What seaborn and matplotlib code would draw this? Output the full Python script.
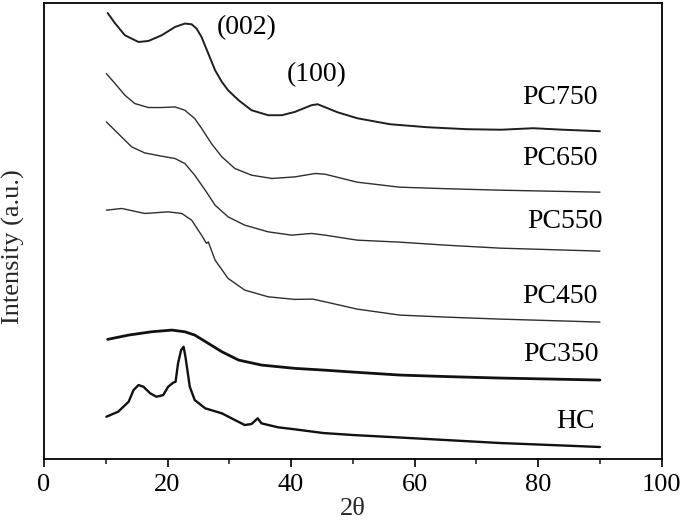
import matplotlib
matplotlib.use("Agg")
import matplotlib.pyplot as plt
import numpy as np
import pandas as pd
import seaborn as sns
from matplotlib.ticker import MultipleLocator

# stacked XRD patterns (values already include the vertical offset)
pc750_x = [10.3, 11.5, 13.1, 15.3, 16.9, 19.05, 21.2, 22.8, 23.9, 24.7, 25.5, 26.6, 27.7, 28.8, 29.8, 31.5,
           33.6, 36.3, 38.5, 40.6, 43.3, 44.3, 45.5, 47.5, 50.7, 56, 62, 68.5, 74, 79.2, 84, 90]
pc750_y = [446.3, 436, 424, 417.3, 418.3, 424, 432.3, 435.7, 435, 430.7, 422.3, 405.7, 389, 377.3, 369, 359,
           349, 344, 344, 347.3, 354, 355, 352, 347, 341, 335, 332, 330, 329.5, 331, 329.5, 328]

pc650_x = [10.1, 11.5, 13.1, 14.7, 16.9, 19.05, 21.2, 22.8, 24.4, 25.5, 27.1, 28.8, 30.9, 33.6, 36.9,
           40.6, 43.9, 45.5, 50.7, 57.6, 65, 73.8, 82, 90]
pc650_y = [385.7, 375.7, 364, 355.7, 351.7, 351.7, 352.3, 349, 340.7, 331, 315.7, 302.3, 290.7, 284, 280.7,
           282.3, 285.7, 285, 277, 272, 270.5, 269, 268, 267]

pc550_x = [10.1, 12, 14.2, 16.3, 19.05, 21.2, 22.8, 24.4, 26.1, 27.7, 29.8, 32.5, 36.3, 40.1, 43.3, 45.5,
           50.7, 57.6, 65, 73.8, 82, 90]
pc550_y = [337.3, 325.7, 312.3, 306.3, 303, 300.7, 295.7, 284, 269, 254, 242.3, 234, 227.3, 224, 225.7, 224,
           219, 217, 214, 211, 209.5, 208]

pc450_x = [10.1, 12.6, 16.3, 20.1, 22.3, 23.9, 25.5, 26.3, 26.6, 27.7, 29.8, 32.5, 36.3, 40.6, 43.5, 45.5,
           50.7, 57.6, 65, 73.8, 82, 90]
pc450_y = [249, 250.7, 245.7, 247.3, 245.7, 239, 224, 215.7, 217.3, 199, 180.7, 169, 162.3, 159.7, 160, 157.3,
           150, 144, 142, 140, 138.5, 137]

pc350_x = [10.3, 13.7, 17.4, 20.7, 22.8, 24.4, 26.6, 28.8, 31.5, 35.2, 40.6, 45.2, 50, 57.6, 65, 73.8, 82, 90]
pc350_y = [119.7, 124, 127.3, 129, 127.3, 124, 115.7, 107.3, 99, 94, 90.7, 89, 87, 84, 82.5, 81, 80, 79]

hc_x = [10.1, 12, 13.7, 14.5, 15.3, 16.1, 17.2, 18.2, 19.3, 20.1, 20.9, 21.3, 21.7, 22.2, 22.6, 22.9, 23.6,
        24.4, 26.1, 28.8, 30.9, 32.5, 33.6, 34.6, 35.2, 37.9, 40.6, 45.2, 50, 57.6, 65, 73.8, 82, 90]
hc_y = [42.3, 47.3, 57.3, 69, 74, 72.3, 65.7, 62.3, 64, 72.3, 76.3, 77.3, 95.7, 109, 112.3, 102.3, 72.3,
        59, 50.7, 45.7, 39, 34, 35, 40.7, 35.7, 31.7, 29.7, 26, 24, 21.5, 19, 16, 14, 12]

names = ["PC750", "PC650", "PC550", "PC450", "PC350", "HC"]
label_x = [83.5, 83.5, 84.3, 83.5, 83.7, 86.1]
label_y = [362, 301, 238, 163, 105, 38]
peak_names = ["(002)", "(100)"]
peak_x = [32.8, 44.2]
peak_y = [432, 385]

series = [(pc750_x, pc750_y, 1.4, "#1e1e1e"),
          (pc650_x, pc650_y, 1.0, "#2e2e2e"),
          (pc550_x, pc550_y, 1.0, "#2e2e2e"),
          (pc450_x, pc450_y, 1.0, "#2e2e2e"),
          (pc350_x, pc350_y, 2.0, "#111111"),
          (hc_x, hc_y, 1.7, "#111111")]

sns.set_theme(style="ticks")
plt.rcParams["font.family"] = ["Liberation Serif", "DejaVu Serif"]

fig = plt.figure(figsize=(6.85, 5.25), dpi=100)
ax = fig.add_axes([44 / 685, 1 - 459 / 525, (661.7 - 44) / 685, (459 - 3.3) / 525])

for name, (xs, ys, lw, c) in zip(names, series):
    df = pd.DataFrame({"x": xs, "y": ys})
    sns.lineplot(data=df, x="x", y="y", ax=ax, color=c, linewidth=lw, sort=False)

for name, tx, ty in zip(names, label_x, label_y):
    ax.text(tx, ty, name, ha="center", va="center", fontsize=20, color="black")
for name, tx, ty in zip(peak_names, peak_x, peak_y):
    ax.text(tx, ty, name, ha="center", va="center", fontsize=20, color="black")

ax.set_xlim(0, 100)
ax.set_ylim(0, 456)
ax.xaxis.set_major_locator(MultipleLocator(20))
ax.xaxis.set_minor_locator(MultipleLocator(10))
ax.set_yticks([])
ax.tick_params(axis="x", which="major", direction="out", length=6, width=1.2, labelsize=19, pad=5, colors="black")
ax.tick_params(axis="x", which="minor", direction="out", length=3.5, width=1.2)
for s in ax.spines.values():
    s.set_visible(True)
    s.set_linewidth(1.3)
    s.set_color("black")

ax.set_xlabel("2θ", fontsize=19, labelpad=1)
ax.set_ylabel("Intensity (a.u.)", fontsize=19)
ax.yaxis.set_label_coords(-0.03, 0.465)

fig.savefig("out.png", dpi=100)
